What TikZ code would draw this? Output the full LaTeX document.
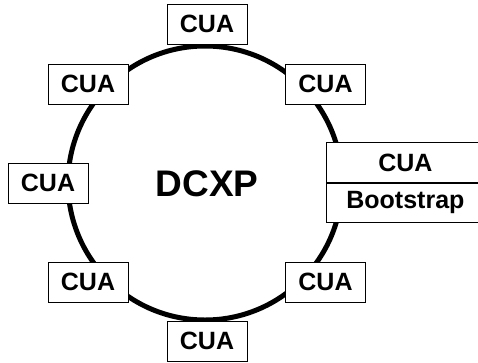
\documentclass[tikz,border=0pt]{standalone}
\usepackage{fontspec}
\setmainfont{Liberation Sans}
\usetikzlibrary{positioning}

\tikzset{
  cua/.style={draw,fill=white,line width=0.8pt,minimum width=80pt,minimum height=40pt,
    inner sep=0pt,font=\fontsize{25}{28}\selectfont\bfseries},
  wide/.style={cua,minimum width=158pt},
}

\begin{document}
\begin{tikzpicture}[x=1pt,y=-1pt]
  \useasboundingbox (0,0) rectangle (478,362);
  \node[font=\fontsize{37}{40}\selectfont\bfseries] (dcxp) at (207,184) {DCXP};
  \draw[line width=5pt] (205,183) circle (137pt);%ring
  \node[cua] (top) at (207,24) {CUA};
  \node[cua] (upleft) at (88,84) {CUA};
  \node[cua] (upright) at (325.5,84) {CUA};
  \node[cua] (left) at (48,183) {CUA};
  \node[cua] (lowleft) at (88,282) {CUA};
  \node[cua] (lowright) at (325.5,282) {CUA};
  \node[cua] (bottom) at (207,341) {CUA};
  \node[wide,anchor=south west] (boot) at (326,183) {CUA};
  \node[wide,below=0pt of boot,minimum height=39pt] (strap) {Bootstrap};
\end{tikzpicture}
\end{document}
